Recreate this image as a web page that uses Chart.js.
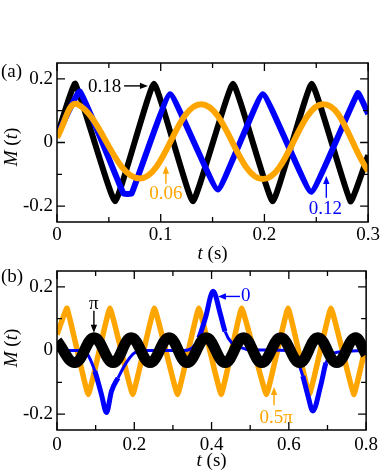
<!DOCTYPE html>
<html>
<head>
<meta charset="utf-8">
<script src="https://cdn.jsdelivr.net/npm/chart.js@4.4.1/dist/chart.umd.min.js"></script>
<style>
  body { margin: 0; background: #fff; width: 382px; height: 471px; position: relative; overflow: hidden; }
  .panel { position: absolute; left: 0; }
  #wrapA { top: 0; }
  #wrapB { top: 232px; }
</style>
</head>
<body>
<div class="panel" id="wrapA"><canvas id="chartA" width="382" height="265"></canvas></div>
<div class="panel" id="wrapB"><canvas id="chartB" width="382" height="239"></canvas></div>
<script>
// shared y axis
const yTicks = [-0.2, 0, 0.2];
const yTickLabels = ["-0.2", "0", "0.2"];
const yMinor = [-0.1, 0.1];

// panel (a)
const aTicksX = [0, 0.1, 0.2, 0.3];
const aTickLabelsX = ["0", "0.1", "0.2", "0.3"];
const aMinorX = [0.05, 0.15, 0.25];

const aBlackT = [0, 0.0176, 0.056, 0.0935, 0.131, 0.1697, 0.208, 0.2456, 0.283, 0.3];
const aBlackM = [0.02, 0.185, -0.185, 0.185, -0.185, 0.185, -0.185, 0.185, -0.185, -0.04];

const aBlueT = [0, 0.022, 0.064, 0.072, 0.109, 0.155, 0.1985, 0.245, 0.29, 0.3];
const aBlueM = [0.02, 0.16, -0.16, -0.16, 0.152, -0.148, 0.152, -0.155, 0.155, 0.09];

const aOrangeT = [0, 0.02, 0.08, 0.139, 0.1985, 0.256, 0.3];
const aOrangeM = [0.016, 0.12, -0.113, 0.12, -0.115, 0.12, -0.09];

// panel (b)
const bTicksX = [0, 0.2, 0.4, 0.6, 0.8];
const bTickLabelsX = ["0", "0.2", "0.4", "0.6", "0.8"];
const bMinorX = [0.1, 0.3, 0.5, 0.7];

const bOrangeT = [0, 0.026, 0.081, 0.137, 0.196, 0.252, 0.312, 0.367, 0.425, 0.478, 0.542, 0.598, 0.653, 0.709, 0.768, 0.8];
const bOrangeM = [0.05, 0.133, -0.138, 0.133, -0.138, 0.133, -0.138, 0.133, -0.138, 0.133, -0.138, 0.133, -0.138, 0.133, -0.138, 0.02];

const bBlackT = [0, 0.047, 0.096, 0.145, 0.192, 0.241, 0.29, 0.337, 0.386, 0.435, 0.483, 0.53, 0.579, 0.628, 0.675, 0.724, 0.771, 0.8];
const bBlackM = [0.03, -0.038, 0.04, -0.038, 0.04, -0.038, 0.04, -0.038, 0.04, -0.038, 0.04, -0.038, 0.04, -0.038, 0.04, -0.038, 0.04, -0.012];

const bBlueT = [0, 0.07, 0.082, 0.098, 0.115, 0.128, 0.141, 0.158, 0.179, 0.2, 0.23, 0.33, 0.35, 0.367, 0.384, 0.404, 0.423, 0.435, 0.452, 0.47, 0.5, 0.6, 0.615, 0.636, 0.649, 0.662, 0.683, 0.696, 0.709, 0.73, 0.8];
const bBlueM = [0, 0, -0.018, -0.065, -0.138, -0.195, -0.128, -0.086, -0.039, -0.008, 0, 0, 0.008, 0.04, 0.102, 0.186, 0.113, 0.06, 0.024, 0.013, 0.002, 0, -0.01, -0.08, -0.14, -0.19, -0.107, -0.039, -0.013, -0.005, 0];

const FONT = '"Liberation Serif", "DejaVu Serif", serif';
const BLACK = "#000000";
const BLUE = "#0000ff";
const ORANGE = "#ffa500";

function toXY(ts, ms) {
  return ts.map((t, i) => ({ x: t, y: ms[i] }));
}

// spikes of the blue trace are drawn a bit heavier
function spikeWidth(ctx) {
  const y0 = Math.abs(ctx.p0.parsed.y);
  const y1 = Math.abs(ctx.p1.parsed.y);
  return Math.max(y0, y1) > 0.09 ? 5 : 3;
}

// frame, inward ticks, titles and arrow notes
const framePlugin = {
  id: "frame",
  afterDatasetsDraw(chart, args, opts) {
    const ctx = chart.ctx;
    const a = chart.chartArea;
    const x = chart.scales.x;
    const y = chart.scales.y;
    ctx.save();
    ctx.strokeStyle = "#000";
    ctx.lineWidth = 1.5;
    ctx.strokeRect(a.left, a.top, a.right - a.left, a.bottom - a.top);

    ctx.lineWidth = 1.3;
    ctx.beginPath();
    const xTick = (v, len) => {
      const px = x.getPixelForValue(v);
      ctx.moveTo(px, a.bottom);
      ctx.lineTo(px, a.bottom - len);
      ctx.moveTo(px, a.top);
      ctx.lineTo(px, a.top + len);
    };
    const yTick = (v, len) => {
      const py = y.getPixelForValue(v);
      ctx.moveTo(a.left, py);
      ctx.lineTo(a.left + len, py);
      ctx.moveTo(a.right, py);
      ctx.lineTo(a.right - len, py);
    };
    opts.majorX.forEach((v) => xTick(v, 8));
    opts.minorX.forEach((v) => xTick(v, 5));
    yTicks.forEach((v) => yTick(v, 8));
    yMinor.forEach((v) => yTick(v, 5));
    ctx.stroke();

    // notes with arrows
    opts.notes.forEach((n) => {
      ctx.fillStyle = n.color;
      ctx.strokeStyle = n.color;
      ctx.font = "19px " + FONT;
      ctx.textAlign = "center";
      ctx.textBaseline = "middle";
      ctx.fillText(n.text, x.getPixelForValue(n.t), y.getPixelForValue(n.m));
      const x1 = x.getPixelForValue(n.arrow[0]);
      const y1 = y.getPixelForValue(n.arrow[1]);
      const x2 = x.getPixelForValue(n.arrow[2]);
      const y2 = y.getPixelForValue(n.arrow[3]);
      const ang = Math.atan2(y2 - y1, x2 - x1);
      ctx.lineWidth = 1.4;
      ctx.beginPath();
      ctx.moveTo(x1, y1);
      ctx.lineTo(x2 - 5 * Math.cos(ang), y2 - 5 * Math.sin(ang));
      ctx.stroke();
      ctx.beginPath();
      ctx.moveTo(x2, y2);
      ctx.lineTo(x2 - 8 * Math.cos(ang) + 3.2 * Math.sin(ang), y2 - 8 * Math.sin(ang) - 3.2 * Math.cos(ang));
      ctx.lineTo(x2 - 8 * Math.cos(ang) - 3.2 * Math.sin(ang), y2 - 8 * Math.sin(ang) + 3.2 * Math.cos(ang));
      ctx.closePath();
      ctx.fill();
    });

    // mixed italic titles
    ctx.fillStyle = "#000";
    ctx.textAlign = "left";
    ctx.textBaseline = "middle";
    const drawParts = (parts, cx, cy) => {
      let w = 0;
      parts.forEach((p) => {
        ctx.font = p[1] + " 19px " + FONT;
        w += ctx.measureText(p[0]).width;
      });
      let px = cx - w / 2;
      parts.forEach((p) => {
        ctx.font = p[1] + " 19px " + FONT;
        ctx.fillText(p[0], px, cy);
        px += ctx.measureText(p[0]).width;
      });
    };
    drawParts([["t", "italic"], [" (s)", "normal"]], (a.left + a.right) / 2, opts.xTitleY);
    ctx.save();
    ctx.translate(12, opts.yTitleY);
    ctx.rotate(-Math.PI / 2);
    drawParts([["M", "italic"], [" (", "normal"], ["t", "italic"], [")", "normal"]], 0, 0);
    ctx.restore();

    ctx.font = "19px " + FONT;
    ctx.fillText(opts.label, 1, opts.labelY);
    ctx.restore();
  },
};

function makeOptions(ticksX, labelsX, xMax, padTop, bottomH, labelPad, frameOpts) {
  return {
    responsive: false,
    animation: false,
    layout: { padding: { top: padTop, right: 13, left: 0, bottom: 0 } },
    elements: { point: { radius: 0 } },
    plugins: { legend: { display: false }, tooltip: { enabled: false }, frame: frameOpts },
    scales: {
      x: {
        type: "linear",
        min: 0,
        max: xMax,
        grid: { display: false, drawTicks: false },
        border: { display: false },
        afterBuildTicks: (s) => { s.ticks = ticksX.map((v) => ({ value: v })); },
        afterFit: (s) => { s.height = bottomH; },
        ticks: {
          autoSkip: false,
          maxRotation: 0,
          padding: labelPad,
          color: "#000",
          font: { family: FONT, size: 19 },
          callback: (v) => labelsX[ticksX.indexOf(v)],
        },
      },
      y: {
        min: -0.25,
        max: 0.25,
        grid: { display: false, drawTicks: false },
        border: { display: false },
        afterBuildTicks: (s) => { s.ticks = yTicks.map((v) => ({ value: v })); },
        afterFit: (s) => { s.width = 57; },
        ticks: {
          padding: 4,
          color: "#000",
          font: { family: FONT, size: 19 },
          callback: (v) => yTickLabels[yTicks.indexOf(v)],
        },
      },
    },
  };
}

new Chart(document.getElementById("chartA"), {
  type: "line",
  data: {
    datasets: [
      { data: toXY(aBlackT, aBlackM), borderColor: BLACK, borderWidth: 6, tension: 0.1, order: 3 },
      { data: toXY(aBlueT, aBlueM), borderColor: BLUE, borderWidth: 6, tension: 0.1, order: 2 },
      { data: toXY(aOrangeT, aOrangeM), borderColor: ORANGE, borderWidth: 6, tension: 0.4, order: 1 },
    ],
  },
  options: makeOptions(aTicksX, aTickLabelsX, 0.3, 63, 43, 2, {
    majorX: aTicksX,
    minorX: aMinorX,
    xTitleY: 254,
    yTitleY: 147,
    label: "(a)",
    labelY: 72,
    notes: [
      { text: "0.18", t: 0.0459, m: 0.176, color: BLACK, arrow: [0.0647, 0.178, 0.0877, 0.178] },
      { text: "0.06", t: 0.105, m: -0.161, color: ORANGE, arrow: [0.105, -0.13, 0.105, -0.073] },
      { text: "0.12", t: 0.2587, m: -0.209, color: BLUE, arrow: [0.2597, -0.174, 0.2597, -0.105] },
    ],
  }),
  plugins: [framePlugin],
});

new Chart(document.getElementById("chartB"), {
  type: "line",
  data: {
    datasets: [
      { data: toXY(bOrangeT, bOrangeM), borderColor: ORANGE, borderWidth: 5.5, tension: 0.08, order: 3 },
      { data: toXY(bBlueT, bBlueM), borderColor: BLUE, borderWidth: 3, cubicInterpolationMode: "monotone", segment: { borderWidth: spikeWidth }, order: 2 },
      { data: toXY(bBlackT, bBlackM), borderColor: BLACK, borderWidth: 11, tension: 0.4, order: 1 },
    ],
  },
  options: makeOptions(bTicksX, bTickLabelsX, 0.8, 39, 41, 4, {
    majorX: bTicksX,
    minorX: bMinorX,
    xTitleY: 229,
    yTitleY: 116,
    label: "(b)",
    labelY: 45,
    notes: [
      { text: "\u03c0", t: 0.0955, m: 0.146, color: BLACK, arrow: [0.0955, 0.125, 0.0955, 0.056] },
      { text: "0", t: 0.4887, m: 0.17, color: BLUE, arrow: [0.4736, 0.17, 0.4165, 0.17] },
      { text: "0.5\u03c0", t: 0.567, m: -0.213, color: ORANGE, arrow: [0.5617, -0.172, 0.5617, -0.115] },
    ],
  }),
  plugins: [framePlugin],
});
</script>
</body>
</html>
